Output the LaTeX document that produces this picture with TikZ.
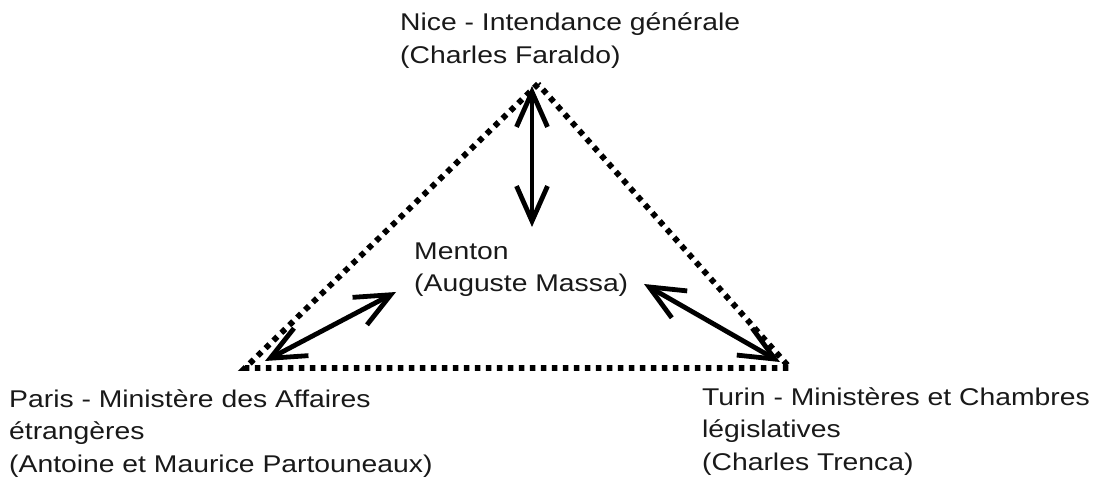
\documentclass[tikz,border=0pt]{standalone}
\usepackage{fontspec}
\setmainfont{Liberation Sans}[FakeStretch=1.17]
\usetikzlibrary{arrows.meta}
\begin{document}
\begin{tikzpicture}[x=1pt,y=-1pt,
  lbl/.style={anchor=base west, inner sep=0pt, align=left, text=black!90, font=\fontsize{24.2}{32.5}\selectfont},
  dotline/.style={line width=5.8pt, dash pattern=on 5.5pt off 5.5pt, line cap=butt},
  link/.style={line width=4.8pt, >={Straight Barb[length=35pt,width=31pt,line cap=butt,line join=miter]}, <->}]
\useasboundingbox (0,0) rectangle (1096,481);
% text nodes (base anchor = baseline of last line)
\node[lbl] (nice) at (400,63.5) {Nice - Intendance générale\\(Charles Faraldo)};
\node[lbl] (menton) at (414,292) {Menton\\(Auguste Massa)};
\node[lbl] (paris) at (9,472) {Paris - Ministère des Affaires\\étrangères\\(Antoine et Maurice Partouneaux)};
\node[lbl] (turin) at (702,470) {Turin - Ministères et Chambres\\législatives\\(Charles Trenca)};
% triangle corners
\coordinate (apex) at (538,84);
\coordinate (lc) at (245,368);
\coordinate (rc) at (790,368);
\draw[dotline] (apex) -- (lc) -- (rc) -- cycle;
% arrow ends
\coordinate (vtop) at (532,86);
\coordinate (vbot) at (532,227);
\coordinate (la) at (265,361);
\coordinate (lb) at (396,292);
\coordinate (ra) at (780,362);
\coordinate (rb) at (644,284);
\draw[link] (vtop) -- (vbot);
\draw[link] (la) -- (lb);
\draw[link] (ra) -- (rb);
\end{tikzpicture}
\end{document}
